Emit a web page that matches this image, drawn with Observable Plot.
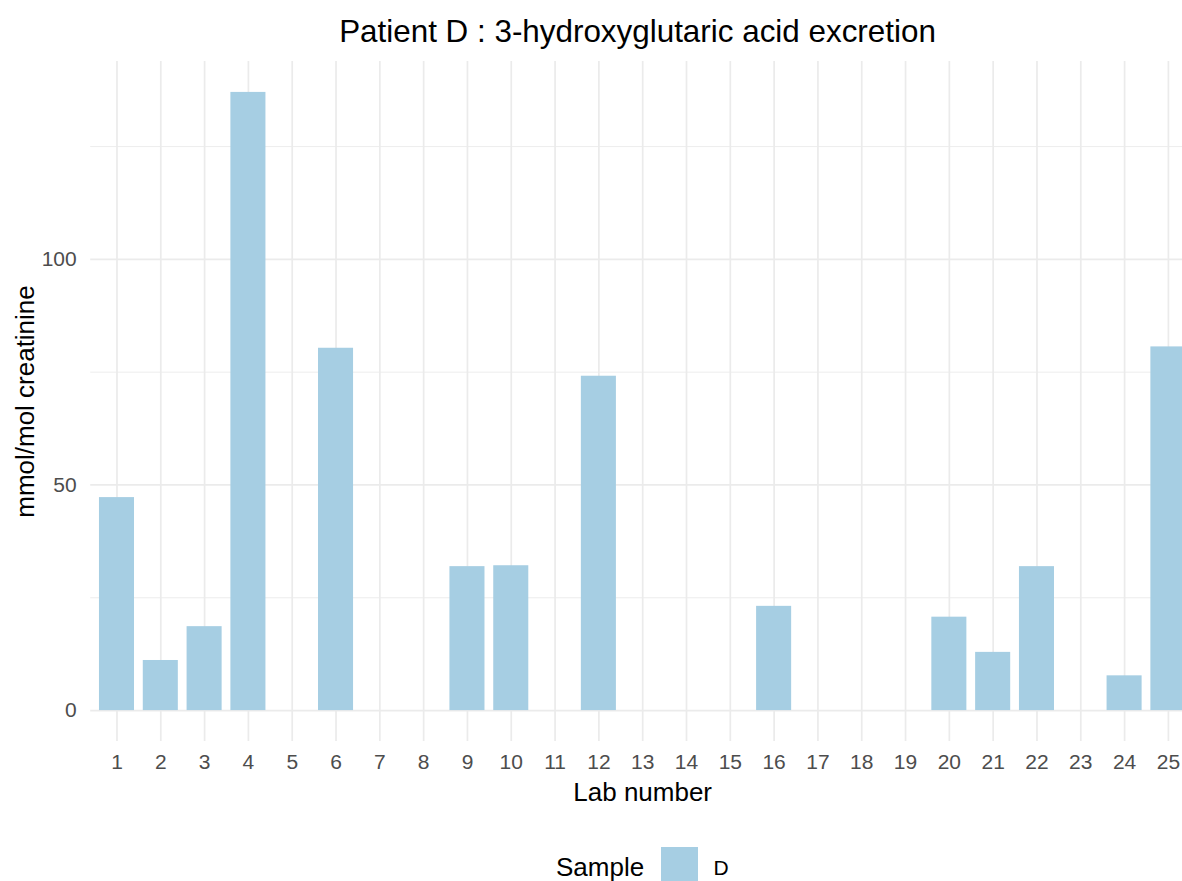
<!DOCTYPE html>
<html>
<head>
<meta charset="utf-8">
<script src="https://cdn.jsdelivr.net/npm/d3@7"></script>
<script src="https://cdn.jsdelivr.net/npm/@observablehq/plot@0.6"></script>
<style>
  html, body { margin: 0; padding: 0; background: #fff; overflow: hidden; }
  #page { position: relative; width: 1182px; height: 881px; overflow: hidden; font-family: "Liberation Sans", Arial, sans-serif; }
  #title { position: absolute; top: 15.7px; left: 637.5px; transform: translateX(-50%); font-size: 31.4px; line-height: 31.4px; color: #000; white-space: nowrap; }
  #chart { position: absolute; top: 61px; left: 0; width: 1182px; height: 780px; overflow: hidden; }
  #chart svg { max-width: none !important; }
  #legend-title { position: absolute; top: 854px; left: 556px; font-size: 26px; line-height: 26px; color: #000; white-space: nowrap; }
  #legend-key { position: absolute; top: 847px; left: 660.5px; width: 37.5px; height: 37.5px; background: #A6CEE3; }
  #legend-label { position: absolute; top: 857px; left: 713.5px; font-size: 21px; line-height: 21px; color: #000; white-space: nowrap; }
</style>
</head>
<body>
<div id="page">
  <div id="title"></div>
  <div id="chart"></div>
  <div id="legend-title"></div>
  <div id="legend-key"></div>
  <div id="legend-label"></div>
</div>
<script>
// ---- data ----
const labs = ["1","2","3","4","5","6","7","8","9","10","11","12","13","14","15","16","17","18","19","20","21","22","23","24","25"];
const values = [47.2, 11.1, 18.6, 137.0, null, 80.3, null, null, 31.9, 32.1, null, 74.1, null, null, null, 23.1, null, null, null, 20.7, 12.9, 31.9, null, 7.7, 80.6];
const sampleName = "D";
const yMajorTicks = [0, 50, 100];
const yMinorTicks = [25, 75, 125];
const titleText = "Patient D : 3-hydroxyglutaric acid excretion";
const xTitle = "Lab number";
const yTitle = "mmol/mol creatinine";
const legendTitle = "Sample";

const data = labs.map((lab, i) => ({lab, value: values[i], sample: sampleName}));

document.getElementById("title").textContent = titleText;
document.getElementById("legend-title").textContent = legendTitle;
document.getElementById("legend-label").textContent = sampleName;

const yMax = d3.max(values);
const expand = yMax * 0.05;
const grid = "#EBEBEB";

const chart = Plot.plot({
  width: 1194.2,
  height: 780,
  marginTop: 0,
  marginBottom: 100,
  marginLeft: 90.2,
  marginRight: 0,
  style: {fontFamily: "'Liberation Sans', Arial, sans-serif", fontSize: "21px", background: "white", maxWidth: "none"},
  x: {domain: labs, padding: 0.2, round: false, label: null},
  y: {domain: [-expand, yMax + expand], label: null},
  color: {domain: [sampleName], range: ["#A6CEE3"]},
  marks: [
    Plot.gridY(yMinorTicks, {stroke: grid, strokeOpacity: 1, strokeWidth: 0.9}),
    Plot.gridY(yMajorTicks, {stroke: grid, strokeOpacity: 1, strokeWidth: 1.7}),
    Plot.gridX({ticks: labs, stroke: grid, strokeOpacity: 1, strokeWidth: 1.7}),
    Plot.barY(data, {x: "lab", y: "value", fill: "sample"}),
    Plot.axisX({tickSize: 0, tickPadding: 13, fill: "#4D4D4D", label: null, fontSize: 21}),
    Plot.axisY({ticks: yMajorTicks, tickSize: 0, tickPadding: 14, fill: "#4D4D4D", label: null, fontSize: 21}),
    Plot.text([xTitle], {text: d => d, frameAnchor: "bottom", textAnchor: "middle", dy: 60, lineAnchor: "bottom", fontSize: 26, fill: "#000"}),
    Plot.text([yTitle], {text: d => d, frameAnchor: "left", textAnchor: "middle", dx: -75.2, rotate: -90, lineAnchor: "top", fontSize: 26, fill: "#000"})
  ]
});
document.getElementById("chart").appendChild(chart);
</script>
</body>
</html>
